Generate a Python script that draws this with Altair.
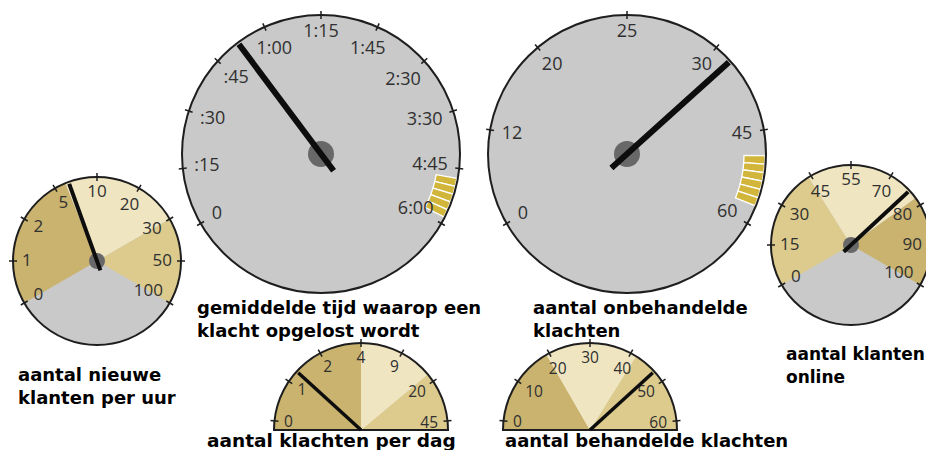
import math
import altair as alt
import numpy as np
import pandas as pd

# ---------------- data ----------------
nieuwe_labels = ["0", "1", "2", "5", "10", "20", "30", "50", "100"]
nieuwe_ticks = [0, 1, 2, 5, 10, 20, 30, 50, 100]
nieuwe_needle = 6.7
nieuwe_bands = [6.3, 30]

tijd_labels = ["0", ":15", ":30", ":45", "1:00", "1:15", "1:45", "2:30", "3:30", "4:45", "6:00"]
tijd_ticks = [0, 15, 30, 45, 60, 75, 105, 150, 210, 285, 360]  # minutes
tijd_needle = 52
tijd_warn = [298, 351]

onbeh_labels = ["0", "12", "20", "25", "30", "45", "60"]
onbeh_ticks = [0, 12, 20, 25, 30, 45, 60]
onbeh_needle = 33
onbeh_warn = [49, 57]

online_labels = ["0", "15", "30", "45", "55", "70", "80", "90", "100"]
online_ticks = [0, 15, 30, 45, 55, 70, 80, 90, 100]
online_needle = 75.7
online_bands = [44, 78]

perdag_labels = ["0", "1", "2", "4", "9", "20", "45"]
perdag_ticks = [0, 1, 2, 4, 9, 20, 45]
perdag_needle = 1.3
perdag_bands = [4, 17.7]

beh_labels = ["0", "10", "20", "30", "40", "50", "60"]
beh_ticks = [0, 10, 20, 30, 40, 50, 60]
beh_needle = 47
beh_bands = [19.3, 41.4]

titles = {
    "nieuwe": ["aantal nieuwe", "klanten per uur"],
    "tijd": ["gemiddelde tijd waarop een", "klacht opgelost wordt"],
    "onbeh": ["aantal onbehandelde", "klachten"],
    "online": ["aantal klanten", "online"],
    "perdag": ["aantal klachten per dag"],
    "beh": ["aantal behandelde klachten"],
}

# ---------------- layout / styles ----------------
gauges = {
    "nieuwe": dict(labels=nieuwe_labels, ticks=nieuwe_ticks, needle=nieuwe_needle,
                   bands=nieuwe_bands, band_kinds=["dark", "cream", "medium"], warn=None,
                   cx=97, cy=261, r=84, a0=-120, a1=120, e0=-120, e1=120, full=True,
                   fs=17, nw=4, tail=10, hub=8, tx=18, ty=381, tfs=18),
    "tijd": dict(labels=tijd_labels, ticks=tijd_ticks, needle=tijd_needle,
                 bands=None, band_kinds=None, warn=(tijd_warn, 5),
                 cx=321, cy=154, r=139, a0=-120, a1=120, e0=-120, e1=120, full=True,
                 fs=18, nw=6, tail=21, hub=13, tx=197, ty=314, tfs=18),
    "onbeh": dict(labels=onbeh_labels, ticks=onbeh_ticks, needle=onbeh_needle,
                  bands=None, band_kinds=None, warn=(onbeh_warn, 6),
                  cx=627, cy=154, r=139, a0=-120, a1=120, e0=-120, e1=120, full=True,
                  fs=18, nw=6, tail=21, hub=13, tx=533, ty=314, tfs=18),
    "online": dict(labels=online_labels, ticks=online_ticks, needle=online_needle,
                   bands=online_bands, band_kinds=["medium", "cream", "dark"], warn=None,
                   cx=851, cy=245, r=80, a0=-120, a1=120, e0=-120, e1=120, full=True,
                   fs=17, nw=4, tail=10, hub=8, tx=786, ty=360, tfs=17),
    "perdag": dict(labels=perdag_labels, ticks=perdag_ticks, needle=perdag_needle,
                   bands=perdag_bands, band_kinds=["dark", "cream", "medium"], warn=None,
                   cx=361, cy=430, r=87, a0=-84, a1=84, e0=-90, e1=90, full=False,
                   fs=15.5, nw=3.5, tail=0, hub=0, tx=207, ty=447, tfs=18.5),
    "beh": dict(labels=beh_labels, ticks=beh_ticks, needle=beh_needle,
                bands=beh_bands, band_kinds=["dark", "cream", "medium"], warn=None,
                cx=590, cy=430, r=87, a0=-84, a1=84, e0=-90, e1=90, full=False,
                fs=15.5, nw=3.5, tail=0, hub=0, tx=505, ty=447, tfs=18),
}

COLORS = {"gray": "#c9c9c9", "dark": "#c9b36f", "medium": "#dccb8d",
          "cream": "#efe5c1", "warn": "#d2b63c", "hub": "#686868"}
OUTLINE = "#1e1e1e"
LABEL = "#303030"
LINE_H = 23
W, H = 918, 442


def text_w(s, fs):
    return sum(0.27 if c == ":" else 0.572 for c in s) * fs


def to_angle(v, g):
    angs = np.linspace(g["a0"], g["a1"], len(g["ticks"]))
    return float(np.interp(v, g["ticks"], angs))


def pt(g, a_deg, d):
    a = math.radians(a_deg)
    return g["cx"] + d * math.sin(a), g["cy"] - d * math.cos(a)


faces, sectors, outlines, ticks, labels, hubs, needles, texts = [], [], [], [], [], [], [], []
for name, g in gauges.items():
    cx, cy, r = g["cx"], g["cy"], g["r"]
    if g["full"]:
        faces.append(dict(cx=cx, cy=cy, r0=0, r1=r, t0=0.0, t1=2 * math.pi, kind="gray"))
        outlines.append(dict(cx=cx, cy=cy, r0=0, r1=r, t0=0.0, t1=2 * math.pi))
    else:
        outlines.append(dict(cx=cx, cy=cy, r0=0, r1=r,
                             t0=math.radians(g["e0"]), t1=math.radians(g["e1"])))
    if g["bands"]:
        edges = [g["e0"]] + [to_angle(b, g) for b in g["bands"]] + [g["e1"]]
        for k, kind in enumerate(g["band_kinds"]):
            sectors.append(dict(cx=cx, cy=cy, r0=0, r1=r, t0=math.radians(edges[k]),
                                t1=math.radians(edges[k + 1]), kind=kind))
    if g["warn"]:
        (w0, w1), n = g["warn"]
        a_s, a_e = to_angle(w0, g), to_angle(w1, g)
        step = (a_e - a_s) / n
        for k in range(n):
            sectors.append(dict(cx=cx, cy=cy, r0=r - 22, r1=r - 1,
                                t0=math.radians(a_s + k * step),
                                t1=math.radians(a_s + (k + 1) * step), kind="warn"))
    gap = 11 if r > 100 else 9
    for lab, tv in zip(g["labels"], g["ticks"]):
        a = to_angle(tv, g)
        x1, y1 = pt(g, a, r - 4)
        x2, y2 = pt(g, a, r + 4)
        ticks.append(dict(x=x1, y=y1, x2=x2, y2=y2))
        w = text_w(lab, g["fs"])
        h = 0.72 * g["fs"]
        ar = math.radians(a)
        d = r - gap - (w / 2) * abs(math.sin(ar)) - (h / 2) * abs(math.cos(ar))
        lx, ly = pt(g, a, d)
        labels.append(dict(x=lx, y=ly, text=lab, fs=g["fs"]))
    if g["hub"]:
        hubs.append(dict(cx=cx, cy=cy, r0=0, r1=g["hub"], t0=0.0, t1=2 * math.pi, kind="hub"))
    a = to_angle(g["needle"], g)
    xs, ys = pt(g, a, -g["tail"])
    xe, ye = pt(g, a, r - 2)
    needles.append(dict(x=xs, y=ys, x2=xe, y2=ye, w=g["nw"]))
    for i, line in enumerate(titles[name]):
        texts.append(dict(x=g["tx"], y=g["ty"] + i * LINE_H, text=line, fs=g["tfs"]))

X = alt.Scale(domain=[8, 8 + W], nice=False, zero=False)
Y = alt.Scale(domain=[8, 8 + H], nice=False, zero=False, reverse=True)
C = alt.Scale(domain=list(COLORS.keys()), range=list(COLORS.values()))


def arc_layer(rows, **mark):
    return alt.Chart(pd.DataFrame(rows)).mark_arc(**mark).encode(
        x=alt.X("cx:Q", scale=X, axis=None),
        y=alt.Y("cy:Q", scale=Y, axis=None),
        theta=alt.Theta("t0:Q", scale=None, stack=False),
        theta2="t1:Q",
        radius=alt.Radius("r1:Q", scale=None),
        radius2="r0:Q",
    )


face_l = arc_layer(faces).encode(color=alt.Color("kind:N", scale=C, legend=None))
band_l = arc_layer([s for s in sectors if s["kind"] != "warn"]).encode(
    color=alt.Color("kind:N", scale=C, legend=None))
warn_l = arc_layer([s for s in sectors if s["kind"] == "warn"], stroke="white",
                   strokeWidth=1.3).encode(color=alt.Color("kind:N", scale=C, legend=None))
out_l = arc_layer(outlines, fillOpacity=0, stroke=OUTLINE, strokeWidth=2)
hub_l = arc_layer(hubs).encode(color=alt.Color("kind:N", scale=C, legend=None))

tick_l = alt.Chart(pd.DataFrame(ticks)).mark_rule(color=OUTLINE, strokeWidth=1.5).encode(
    x=alt.X("x:Q", scale=X, axis=None), y=alt.Y("y:Q", scale=Y, axis=None),
    x2="x2:Q", y2="y2:Q")

label_l = alt.Chart(pd.DataFrame(labels)).mark_text(
    font="Open Sans", color=LABEL, align="center", baseline="middle").encode(
    x=alt.X("x:Q", scale=X, axis=None), y=alt.Y("y:Q", scale=Y, axis=None),
    text="text:N", size=alt.Size("fs:Q", scale=None))

needle_l = alt.Chart(pd.DataFrame(needles)).mark_rule(color="#0d0d0d", strokeCap="butt").encode(
    x=alt.X("x:Q", scale=X, axis=None), y=alt.Y("y:Q", scale=Y, axis=None),
    x2="x2:Q", y2="y2:Q", strokeWidth=alt.StrokeWidth("w:Q", scale=None))

title_l = alt.Chart(pd.DataFrame(texts)).mark_text(
    font="DejaVu Sans", fontWeight="bold", color="black",
    align="left", baseline="alphabetic").encode(
    x=alt.X("x:Q", scale=X, axis=None), y=alt.Y("y:Q", scale=Y, axis=None), text="text:N",
    size=alt.Size("fs:Q", scale=None))

chart = alt.layer(face_l, band_l, warn_l, out_l, tick_l, label_l, hub_l, needle_l, title_l).properties(
    width=W, height=H, padding=0, autosize="none", background="white"
).configure_view(stroke=None)

chart.save("out.html", embed_options={"renderer": "svg", "actions": False})
